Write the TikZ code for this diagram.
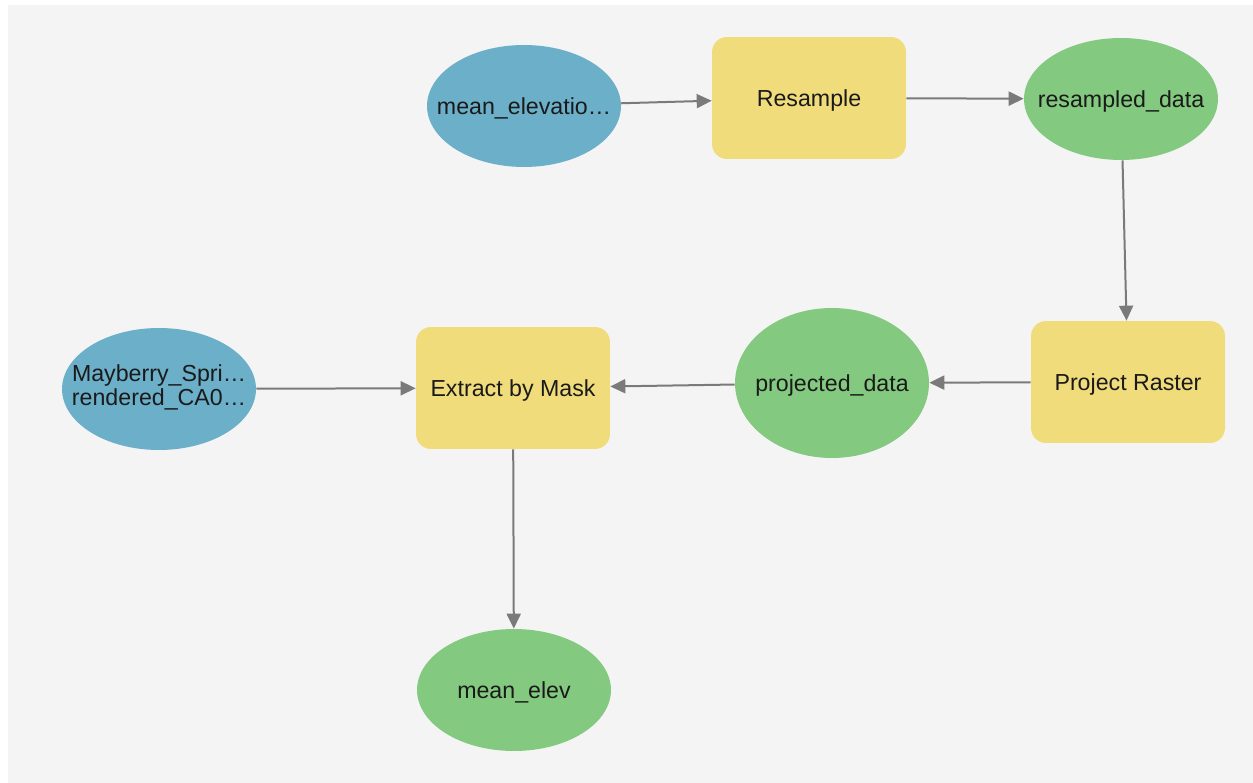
\documentclass[tikz,border=0pt]{standalone}
\usepackage{fontspec}
\setmainfont{Liberation Sans}
\usetikzlibrary{shapes.geometric,arrows.meta}
\definecolor{bgc}{HTML}{F4F4F4}
\definecolor{inc}{HTML}{6BAFC9}
\definecolor{toolc}{HTML}{F1DC7C}
\definecolor{outc}{HTML}{83C97F}
\definecolor{linkc}{HTML}{7A7A7A}
\definecolor{txtc}{HTML}{1A1A1A}
\newcommand{\lbl}[1]{\makebox[0pt]{#1}}
\tikzset{
  dataset/.style={ellipse,minimum width=3.88cm,minimum height=2.44cm,inner sep=0pt},
  indata/.style={dataset,fill=inc},
  outdata/.style={dataset,fill=outc,text depth=0pt},
  toolbox/.style={rectangle,rounded corners=0.3cm,fill=toolc,minimum width=3.88cm,minimum height=2.44cm,inner sep=0pt,text depth=0pt},
  link/.style={draw=linkc,line width=0.04cm,-{Triangle[length=0.3cm,width=0.28cm]}}
}
\begin{document}
\begin{tikzpicture}[x=0.02cm,y=-0.02cm,font=\fontsize{13.2}{13.6}\selectfont,text=txtc]
\useasboundingbox (0,0) rectangle (1253,783);
\fill[bgc] (8,5) rectangle (1253,783);
% top row
\node[indata,text depth=0pt] (melev) at (524,106) {\lbl{mean\_elevatio…}};
\node[toolbox] (resample) at (809,98) {Resample};
\node[outdata] (resdata) at (1121,99) {\lbl{resampled\_data}};
% middle row
\node[toolbox] (project) at (1128,382) {Project Raster};
\node[outdata,minimum height=3cm] (projdata) at (832,383) {\lbl{projected\_data}};
\node[toolbox] (extract) at (513,388) {Extract by Mask};
\node[indata] (mayberry) at (159,389) {\lbl{\begin{tabular}{@{}c@{}}Mayberry\_Spri…\\rendered\_CA0…\end{tabular}}};
% bottom
\node[outdata] (melevout) at (514,690) {\lbl{mean\_elev}};
\draw[link] (melev) -- (resample);
\draw[link] (resample) -- (resdata);
\draw[link] (resdata) -- (project);
\draw[link] (project) -- (projdata);
\draw[link] (projdata) -- (extract);
\draw[link] (mayberry) -- (extract);
\draw[link] (extract) -- (melevout);
\end{tikzpicture}
\end{document}
